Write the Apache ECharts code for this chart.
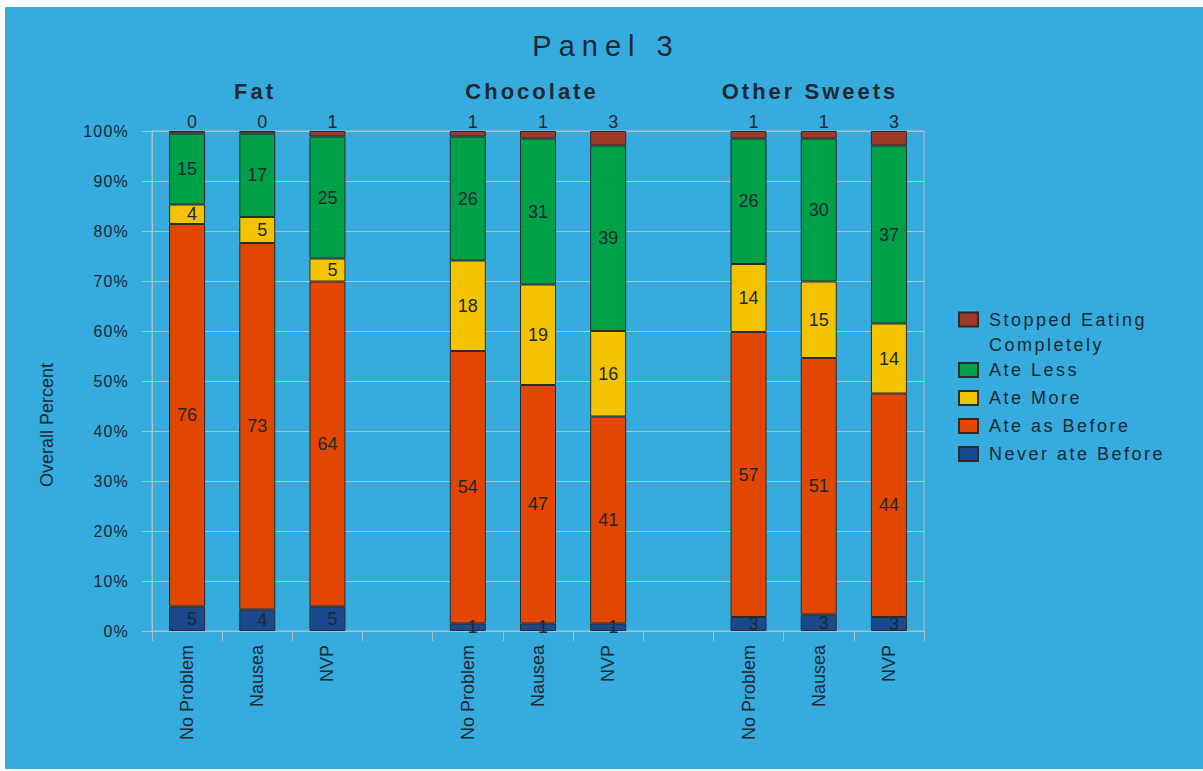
<!DOCTYPE html>
<html>
<head>
<meta charset="utf-8">
<title>Panel 3</title>
<script src="https://cdn.jsdelivr.net/npm/echarts@6/dist/echarts.min.js"></script>
<style>
  html, body { margin: 0; padding: 0; background: #fff; }
  #main { position: absolute; left: 5px; top: 7px; width: 1198px; height: 762px; }
  /* the original uses wide letter spacing on most texts */
  #main text[style*="sp7"] { letter-spacing: 7px; }
  #main text[style*="sp3"] { letter-spacing: 3px; }
  #main text[style*="sp2"] { letter-spacing: 2.5px; }
  #main text[style*="sp1"] { letter-spacing: 1.2px; }
</style>
</head>
<body>
<div id="main"></div>
<script>
var categories = ['No Problem', 'Nausea', 'NVP', '', 'No Problem', 'Nausea', 'NVP', '', 'No Problem', 'Nausea', 'NVP']
var groups = ['Fat', 'Chocolate', 'Other Sweets']

// bar heights (percent of group)
var neverAte = [4.9, 4.3, 4.9, null, 1.5, 1.5, 1.5, null, 2.8, 3.3, 2.8]
var ateAsBefore = [76.5, 73.3, 65.0, null, 54.5, 47.7, 41.4, null, 57.0, 51.3, 44.7]
var ateMore = [3.9, 5.2, 4.6, null, 18.1, 20.1, 17.1, null, 13.6, 15.3, 14.0]
var ateLess = [14.2, 16.7, 24.4, null, 24.8, 29.2, 37.1, null, 25.1, 28.6, 35.6]
var stopped = [0.5, 0.5, 1.1, null, 1.1, 1.5, 2.9, null, 1.5, 1.5, 2.9]

// numbers printed on the bars
var lblNever = [5, 4, 5, null, 1, 1, 1, null, 3, 3, 3]
var lblBefore = [76, 73, 64, null, 54, 47, 41, null, 57, 51, 44]
var lblMore = [4, 5, 5, null, 18, 19, 16, null, 14, 15, 14]
var lblLess = [15, 17, 25, null, 26, 31, 39, null, 26, 30, 37]
var lblStopped = [0, 0, 1, null, 1, 1, 3, null, 1, 1, 3]

var yTicks = [0, 10, 20, 30, 40, 50, 60, 70, 80, 90, 100]

var textColor = '#1d2833'
var lineColor = '#b7bdc3'
var font = 'Liberation Sans, Arial, sans-serif'

var chart = echarts.init(document.getElementById('main'), null, { renderer: 'svg' })

function mkSeries(name, data, labels, color, labelPos) {
  return {
    name: name,
    type: 'bar',
    stack: 'total',
    barWidth: 36,
    data: data,
    itemStyle: {
      color: color,
      borderColor: '#2b2b2b',
      borderWidth: 1
    },
    label: {
      show: true,
      position: labelPos,
      distance: 0,
      align: 'right',
      offset: [10, 0],
      color: textColor,
      fontSize: 18,
      fontFamily: font,
      formatter: function(p) {
        return labels[p.dataIndex] == null ? '' : String(labels[p.dataIndex])
      }
    }
  }
}

var groupTitle = function(text, x) {
  return {
    text: text, left: x, top: 79, textAlign: 'center', textVerticalAlign: 'middle',
    textStyle: { color: textColor, fontSize: 22, fontWeight: 'bold', fontFamily: 'Liberation Sans, sp3, sans-serif' }
  }
}

chart.setOption({
  backgroundColor: '#35abde',
  animation: false,
  title: [
    {
      text: 'Panel 3',
      left: 596,
      top: 34,
      textAlign: 'center',
      textVerticalAlign: 'middle',
      textStyle: { color: textColor, fontSize: 29, fontWeight: 'normal', fontFamily: 'Liberation Sans, sp7, sans-serif' }
    },
    groupTitle(groups[0], 245),
    groupTitle(groups[1], 522),
    groupTitle(groups[2], 800)
  ],
  legend: [
    {
      data: ['Stopped Eating Completely'],
      orient: 'vertical',
      left: 953,
      top: 275,
      padding: 0,
      icon: 'rect',
      itemWidth: 19,
      itemHeight: 14,
      selectedMode: false,
      // empty first line keeps "Stopped Eating" level with the swatch
      formatter: function(n) { return '\n' + n.replace(' Completely', '\nCompletely') },
      textStyle: { color: textColor, fontSize: 18, lineHeight: 25, padding: [0, 0, 0, 6], fontFamily: 'Liberation Sans, sp2, sans-serif' }
    },
    {
      data: ['Ate Less', 'Ate More', 'Ate as Before', 'Never ate Before'],
      orient: 'vertical',
      left: 953,
      top: 354,
      padding: 0,
      itemGap: 10,
      icon: 'rect',
      itemWidth: 19,
      itemHeight: 14,
      selectedMode: false,
      textStyle: { color: textColor, fontSize: 18, padding: [0, 0, 0, 6], fontFamily: 'Liberation Sans, sp2, sans-serif' }
    }
  ],
  graphic: [
    {
      type: 'text',
      x: 42,
      y: 418,
      rotation: Math.PI / 2,
      style: {
        text: 'Overall Percent',
        fill: textColor,
        font: '18px Liberation Sans, Arial, sans-serif',
        align: 'center',
        verticalAlign: 'middle',
        textAlign: 'center',
        textVerticalAlign: 'middle'
      }
    }
  ],
  grid: {
    left: 147,
    right: 279,
    top: 124,
    bottom: 138,
    show: true,
    borderColor: lineColor,
    borderWidth: 1,
    backgroundColor: 'transparent'
  },
  xAxis: {
    type: 'category',
    data: categories,
    axisLine: { lineStyle: { color: lineColor, width: 1 } },
    axisTick: { show: true, length: 10, lineStyle: { color: lineColor } },
    axisLabel: {
      rotate: 90,
      margin: 14,
      color: textColor,
      fontSize: 18,
      fontFamily: font,
      interval: 0
    },
    splitLine: { show: false }
  },
  yAxis: {
    type: 'value',
    min: yTicks[0],
    max: yTicks[yTicks.length - 1],
    interval: yTicks[1] - yTicks[0],
    axisLine: { show: true, lineStyle: { color: lineColor, width: 1 } },
    axisTick: { show: true, length: 10, lineStyle: { color: lineColor } },
    axisLabel: {
      margin: 23,
      color: textColor,
      fontSize: 16,
      fontFamily: 'Liberation Sans, sp1, sans-serif',
      formatter: '{value}%'
    },
    splitLine: { show: true, lineStyle: { color: lineColor, width: 1 } }
  },
  series: [
    mkSeries('Never ate Before', neverAte, lblNever, '#1a4a8d', 'inside'),
    mkSeries('Ate as Before', ateAsBefore, lblBefore, '#e34600', 'inside'),
    mkSeries('Ate More', ateMore, lblMore, '#f4c300', 'inside'),
    mkSeries('Ate Less', ateLess, lblLess, '#00a046', 'inside'),
    mkSeries('Stopped Eating Completely', stopped, lblStopped, '#a03a28', 'top')
  ]
})
</script>
</body>
</html>
